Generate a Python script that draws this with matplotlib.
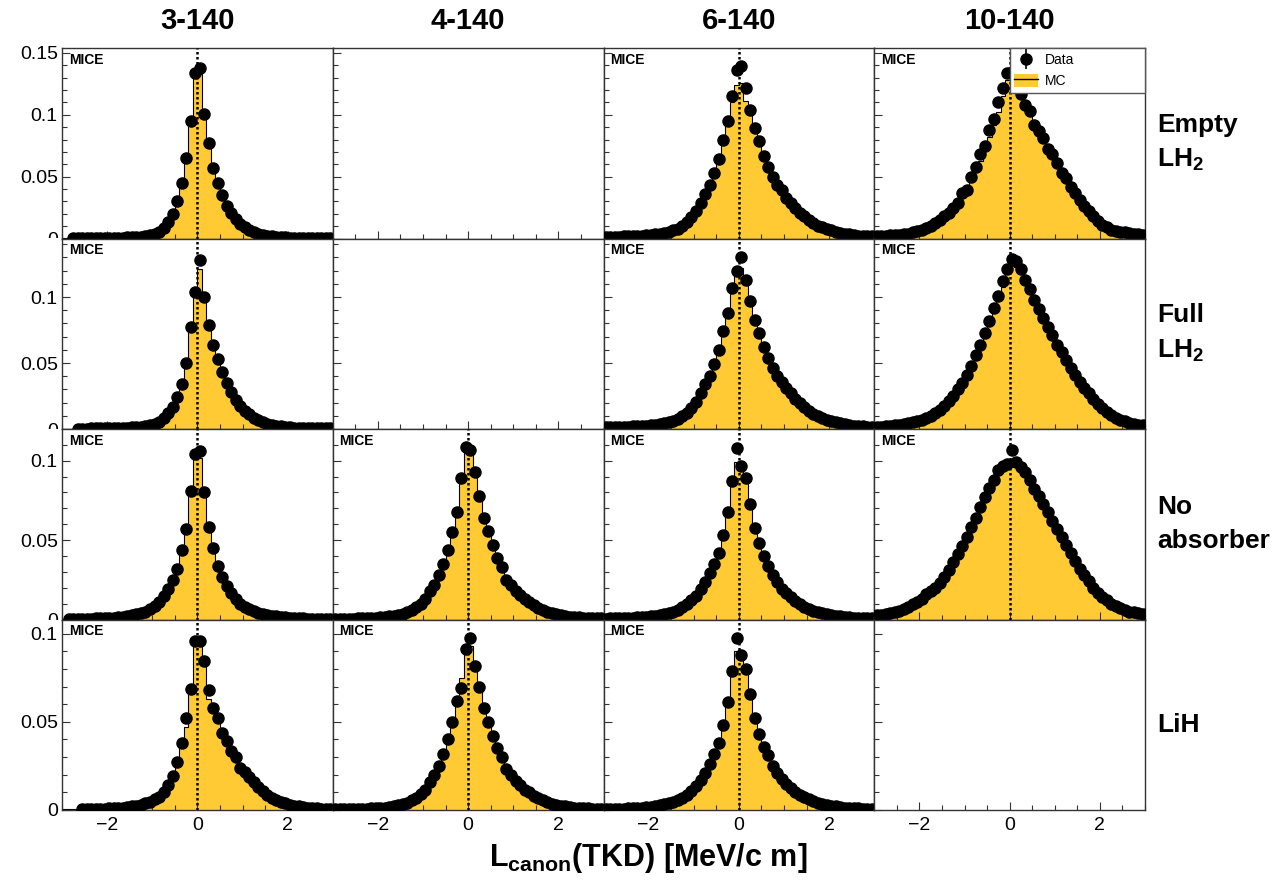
import matplotlib.pyplot as plt
import numpy as np
from matplotlib.lines import Line2D
from matplotlib.patches import Patch
from matplotlib.legend_handler import HandlerTuple
from matplotlib.transforms import Bbox, TransformedBbox

plt.rcParams['font.family'] = ['Liberation Sans', 'DejaVu Sans']
plt.rcParams['mathtext.fontset'] = 'custom'
plt.rcParams['mathtext.rm'] = 'Liberation Sans'
plt.rcParams['mathtext.bf'] = 'Liberation Sans:bold'

# Beam settings (columns) and absorber configurations (rows)
beams = ["3-140", "4-140", "6-140", "10-140"]
absorbers = ["Empty\nLH$_\\mathbf{2}$", "Full\nLH$_\\mathbf{2}$", "No\nabsorber", "LiH"]

# 60 bins of 0.1 MeV/c m between -3 and 3, bin contents in units of 1e-3
edges = np.linspace(-3, 3, 61)

empty_3_data = [0, 0, 0.3, 0.3, 0.3, 0.3, 0.4, 0.4, 0.4, 0.5, 0.5, 0.6, 0.7, 0.8, 0.9,
                1.1, 1.3, 1.6, 2.1, 2.8, 3.8, 5.5, 8.5, 13, 19.5, 30, 44.5, 65, 95, 134,
                138, 101, 77, 57, 45, 35, 26, 20.5, 15.5, 12, 9, 7, 5.2, 4, 3.1,
                2.4, 1.9, 1.5, 1.2, 1.0, 0.8, 0.7, 0.6, 0.5, 0.5, 0.4, 0.4, 0.3, 0.3, 0.3]
empty_3_mc = [0.2, 0.2, 0.3, 0.3, 0.3, 0.3, 0.4, 0.4, 0.4, 0.5, 0.5, 0.6, 0.7, 0.8, 0.9,
              1.1, 1.3, 1.6, 2.1, 2.8, 3.9, 5.6, 8.6, 13.5, 20, 29, 43, 64, 91, 133,
              133, 102, 78, 58, 45, 35, 27, 21, 16, 12.5, 9.5, 7.2, 5.4, 4.1, 3.2,
              2.5, 2.0, 1.6, 1.3, 1.0, 0.8, 0.7, 0.6, 0.5, 0.5, 0.4, 0.4, 0.3, 0.3, 0.3]

empty_6_data = [1.3, 1.4, 1.5, 1.6, 1.7, 1.8, 2.0, 2.2, 2.4, 2.6, 2.9, 3.3, 3.8, 4.5, 5.3,
                6.5, 8, 10, 13, 17, 22, 29, 36, 43.5, 53, 64, 80, 94.6, 115, 136,
                139.5, 121.5, 104, 89, 79, 67, 58, 50, 43.5, 39, 33, 29, 25, 21, 18,
                15, 12.5, 10.5, 9, 7.5, 6.5, 5.5, 4.6, 3.9, 3.3, 2.8, 2.4, 2.1, 1.9, 1.7]
empty_6_mc = [1.3, 1.4, 1.5, 1.6, 1.7, 1.8, 2.0, 2.2, 2.4, 2.6, 2.9, 3.3, 3.8, 4.5, 5.3,
              6.5, 8.2, 10.5, 13.5, 17.5, 23, 29, 36, 44, 54, 66, 81, 96, 110, 124,
              126, 111, 102, 90, 79, 68, 59, 51, 44.5, 39, 33.5, 29, 25, 21.5, 18,
              15, 12.5, 10.5, 9, 7.5, 6.5, 5.5, 4.6, 3.9, 3.3, 2.8, 2.4, 2.1, 1.9, 1.7]

empty_10_data = [1.8, 2.0, 2.0, 2.5, 2.8, 3.0, 3.5, 4.0, 5.0, 6.0, 7.0, 8.5, 10, 12.5, 15,
                 18, 21, 25, 29, 37, 39.5, 50, 58, 68, 74.5, 88, 96.5, 110, 121.5, 133.6,
                 135, 128, 117, 108, 103, 92, 87, 81, 72, 68, 61, 53, 49, 42, 37,
                 31, 26, 22, 18, 14, 11, 9, 7, 6, 5.5, 5, 4.5, 4, 3.5, 3]
empty_10_mc = [1.8, 2.0, 2.2, 2.5, 2.8, 3.2, 3.7, 4.3, 5.0, 6.0, 7.2, 8.5, 10, 12, 14.5,
               17.5, 21, 25, 29.5, 34.5, 40, 47, 55, 63, 72, 82, 92, 102, 115, 128,
               130, 128, 118, 110, 102, 94, 87, 80, 73, 67, 60, 54, 48, 42, 37,
               32, 27, 23, 19, 15, 12, 9.5, 7.5, 6.5, 5.5, 5, 4.5, 4, 3.5, 3]

full_3_data = [0, 0, 0, 0.3, 0.3, 0.3, 0.4, 0.4, 0.4, 0.5, 0.5, 0.6, 0.7, 0.8, 1.0,
               1.2, 1.4, 1.7, 2.2, 2.9, 3.9, 5.5, 8, 12, 17, 24, 34, 50, 77, 104,
               128, 100, 79, 64, 53, 43, 35, 28, 22, 17.5, 14, 11, 8.5, 6.5, 5,
               4, 3.2, 2.5, 2, 1.6, 1.3, 1.1, 0.9, 0.8, 0.7, 0.6, 0.5, 0.5, 0.4, 0.4]
full_3_mc = [0.2, 0.2, 0.3, 0.3, 0.3, 0.3, 0.4, 0.4, 0.4, 0.5, 0.5, 0.6, 0.7, 0.8, 1.0,
             1.2, 1.4, 1.7, 2.2, 2.9, 4, 5.6, 8.2, 12.5, 17.5, 25, 35, 51, 78, 106,
             121, 101, 80, 64, 53, 43, 35, 28, 22.5, 18, 14.5, 11.5, 9, 7, 5.3,
             4.2, 3.3, 2.6, 2.1, 1.7, 1.4, 1.1, 0.9, 0.8, 0.7, 0.6, 0.5, 0.5, 0.4, 0.4]

full_6_data = [1.2, 1.3, 1.4, 1.5, 1.6, 1.7, 1.9, 2.0, 2.2, 2.4, 2.7, 3.1, 3.5, 4.2, 5,
               6, 7.5, 9.5, 12, 16, 20.5, 27, 34, 40.5, 49, 60, 74, 88, 107, 120,
               130, 113, 97, 83, 73, 62, 54, 46.5, 40.5, 36, 31, 27, 23, 19.5, 17,
               14, 11.5, 9.8, 8.4, 7, 6, 5.1, 4.3, 3.6, 3.1, 2.6, 2.2, 2, 1.8, 1.6]
full_6_mc = [1.2, 1.3, 1.4, 1.5, 1.6, 1.7, 1.9, 2.0, 2.2, 2.4, 2.7, 3.1, 3.5, 4.2, 5,
             6, 7.7, 9.8, 12.4, 16.5, 21, 27, 34, 41, 50, 61, 75, 90, 104, 118,
             122, 109, 96, 83, 73, 63, 54, 47, 41, 36, 31, 27, 23, 19.5, 17,
             14, 11.5, 9.8, 8.4, 7, 6, 5.1, 4.3, 3.6, 3.1, 2.6, 2.2, 2, 1.8, 1.6]

full_10_data = [1.5, 1.7, 2.0, 2.3, 2.7, 3.1, 3.7, 4.3, 5.0, 6.0, 7.2, 8.5, 10, 12, 14.5,
                17.5, 21, 25, 30, 35, 41, 48, 56, 64, 73, 82, 92, 101, 112, 121,
                129, 127, 121, 113, 106, 98, 91, 84, 77, 71, 64, 58, 52, 46, 41,
                36, 31, 27, 23, 19, 16, 13, 10.5, 8.5, 7, 5.8, 4.8, 4, 3.3, 2.8]
full_10_mc = [1.5, 1.7, 2.0, 2.3, 2.7, 3.1, 3.7, 4.3, 5.0, 6.0, 7.2, 8.5, 10, 12, 14.5,
              17.5, 21, 25, 29.5, 34.5, 40, 47, 55, 63, 72, 81, 90, 99, 108, 118,
              124, 123, 118, 112, 105, 98, 91, 84, 77, 70, 64, 58, 52, 46, 41,
              36, 31, 27, 23, 19, 16, 13, 10.5, 8.5, 7, 5.8, 4.8, 4, 3.3, 2.8]

none_3_data = [0, 0.4, 0.4, 0.5, 0.5, 0.6, 0.6, 0.7, 0.8, 0.9, 1.0, 1.2, 1.4, 1.7, 2.1,
               2.6, 3.2, 4, 5, 6.5, 8.5, 11, 14.5, 19, 25, 32, 44, 57, 81, 104,
               106, 80, 58, 45, 34, 27, 21, 16.5, 13, 10, 8, 6.5, 5.2, 4.2, 3.4,
               2.8, 2.3, 1.9, 1.6, 1.3, 1.1, 0.9, 0.8, 0.7, 0.6, 0.5, 0.5, 0.4, 0.4, 0.3]
none_3_mc = [0.3, 0.4, 0.4, 0.5, 0.5, 0.6, 0.6, 0.7, 0.8, 0.9, 1.0, 1.2, 1.4, 1.7, 2.1,
             2.6, 3.2, 4, 5, 6.5, 8.5, 11, 14.5, 19, 25, 33, 45, 58, 80, 102,
             102, 80, 59, 46, 35, 27.5, 21.5, 17, 13.5, 10.5, 8.3, 6.7, 5.4, 4.3, 3.5,
             2.8, 2.3, 1.9, 1.6, 1.3, 1.1, 0.9, 0.8, 0.7, 0.6, 0.5, 0.5, 0.4, 0.4, 0.3]

none_4_data = [0.4, 0.4, 0.5, 0.5, 0.6, 0.7, 0.8, 0.9, 1.0, 1.1, 1.3, 1.6, 2.0, 2.4, 3.0,
               3.7, 4.7, 6, 7.8, 10, 12.7, 18, 22, 28, 35, 44, 55, 68, 89, 108.5,
               107, 93, 78, 64, 56, 47, 39, 33, 25, 22, 18, 15.4, 13, 11, 9,
               7.5, 6, 5, 4, 3.3, 2.7, 2.2, 1.8, 1.5, 1.3, 1.1, 1.0, 0.9, 0.8, 0.7]
none_4_mc = [0.4, 0.4, 0.5, 0.5, 0.6, 0.7, 0.8, 0.9, 1.0, 1.1, 1.3, 1.6, 2.0, 2.4, 3.0,
             3.8, 4.8, 6.2, 8, 10.3, 13.5, 17.5, 22.5, 28.5, 35.5, 44, 55, 69, 88, 106,
             106, 92, 78, 65, 55.5, 47, 39.5, 33, 27, 22.5, 18.5, 15.5, 13, 11, 9,
             7.5, 6, 5, 4, 3.3, 2.7, 2.2, 1.8, 1.5, 1.3, 1.1, 1.0, 0.9, 0.8, 0.7]

none_6_data = [0.6, 0.7, 0.7, 0.8, 0.9, 1.0, 1.1, 1.3, 1.5, 1.7, 2.0, 2.4, 2.9, 3.5, 4.2,
               5, 6.2, 7.7, 9.5, 12, 15, 19, 23.5, 29, 35, 42, 53, 68, 87.5, 108,
               97, 89, 73, 57.5, 48, 40, 34, 28, 23.5, 19.5, 16.5, 14, 11.5, 9.5, 8,
               6.6, 5.5, 4.6, 3.8, 3.2, 2.7, 2.3, 1.9, 1.6, 1.4, 1.2, 1.0, 0.9, 0.8, 0.7]
none_6_mc = [0.6, 0.7, 0.7, 0.8, 0.9, 1.0, 1.1, 1.3, 1.5, 1.7, 2.0, 2.4, 2.9, 3.5, 4.2,
             5, 6.3, 7.8, 9.7, 12.2, 15.2, 19, 23.5, 29, 35.5, 43, 53, 67, 85, 99,
             100, 88, 74, 59, 49, 41, 34.5, 28.5, 24, 20, 17, 14.2, 11.8, 9.8, 8.1,
             6.6, 5.5, 4.6, 3.8, 3.2, 2.7, 2.3, 1.9, 1.6, 1.4, 1.2, 1.0, 0.9, 0.8, 0.7]

none_10_data = [3, 3, 3.5, 4, 4.5, 5.5, 6.5, 8, 9.5, 11, 13, 16, 18, 20, 23,
                27, 31, 36, 41, 46, 52, 58, 64, 71, 77, 83, 88, 94, 97, 98,
                107, 99, 96, 93, 88, 82, 78, 73, 68, 62, 57, 52, 47, 42, 37,
                32, 28, 24, 20, 17, 14, 12, 10, 8.5, 7, 6, 5, 4.5, 4, 3.5]
none_10_mc = [3, 3, 3.5, 4, 4.5, 5.5, 6.5, 8, 9.5, 11, 13, 15.5, 18, 20.5, 23,
              26, 30, 34.5, 40, 45.5, 51, 57, 63, 69.5, 75.5, 81, 86, 91, 95, 98,
              100, 100, 96, 92, 87, 82, 77, 72, 67, 62, 57, 52, 47, 42, 37,
              32, 28, 24, 20, 17, 14, 12, 10, 8.5, 7, 6, 5, 4.5, 4, 3.5]

lih_3_data = [0, 0, 0, 0, 0.5, 0.5, 0.6, 0.6, 0.7, 0.8, 0.9, 1.0, 1.2, 1.4, 1.7,
              2.0, 2.5, 3.0, 3.7, 4.5, 6, 7.5, 10, 13.9, 19, 27.4, 38, 52, 68.5, 96,
              96, 84.4, 68, 58, 52, 43.8, 39, 33.6, 30, 23.6, 21.6, 18.7, 15.8, 13.3, 11,
              8.7, 6.8, 5.5, 4.5, 3.7, 3, 2.5, 2, 1.7, 1.4, 1.2, 1, 0.8, 0.7, 0.6]
lih_3_mc = [0.4, 0.4, 0.4, 0.5, 0.5, 0.5, 0.6, 0.6, 0.7, 0.8, 0.9, 1.0, 1.2, 1.4, 1.7,
            2.0, 2.5, 3.0, 3.7, 4.6, 5.8, 7.5, 9.8, 13.5, 19, 27, 38, 47, 68, 98.5,
            98.5, 84, 63, 58, 51, 44, 39, 33, 29, 24, 21.5, 18.5, 15.5, 13, 10.8,
            8.7, 6.9, 5.6, 4.6, 3.8, 3.1, 2.5, 2.1, 1.7, 1.4, 1.2, 1.0, 0.8, 0.7, 0.6]

lih_4_data = [0.4, 0.4, 0.4, 0.5, 0.5, 0.6, 0.7, 0.8, 0.9, 1.0, 1.2, 1.4, 1.8, 2.2, 2.7,
              3.3, 4.2, 5.4, 7, 9, 11.5, 16, 20, 25, 31.5, 40, 50, 62, 69, 91,
              97.7, 81.5, 70, 58, 50, 42, 35, 30, 23, 20, 16.5, 14, 11.5, 10, 8,
              6.8, 5.4, 4.5, 3.6, 3, 2.4, 2, 1.6, 1.4, 1.2, 1, 0.9, 0.8, 0.7, 0.6]
lih_4_mc = [0.4, 0.4, 0.4, 0.5, 0.5, 0.6, 0.7, 0.8, 0.9, 1.0, 1.2, 1.4, 1.8, 2.2, 2.7,
            3.4, 4.3, 5.5, 7.1, 9.2, 11.8, 15.5, 20, 25.5, 32, 40, 50, 61, 75, 92,
            93, 82, 70, 58.5, 50, 42, 35.5, 29.5, 24, 20, 16.8, 14, 11.7, 9.8, 8.1,
            6.8, 5.4, 4.5, 3.6, 3, 2.4, 2, 1.6, 1.4, 1.2, 1, 0.9, 0.8, 0.7, 0.6]

lih_6_data = [0.5, 0.6, 0.6, 0.7, 0.8, 0.9, 1.0, 1.2, 1.4, 1.5, 1.8, 2.2, 2.6, 3.2, 3.8,
              4.5, 5.6, 7, 8.5, 11, 13.5, 17, 21, 26, 31.5, 38, 48, 61, 79, 97.7,
              88, 80, 66, 52, 43, 36, 31, 25, 21, 17.5, 15, 12.6, 10.4, 8.6, 7.2,
              6, 5, 4.1, 3.4, 2.9, 2.4, 2.1, 1.7, 1.4, 1.3, 1.1, 0.9, 0.8, 0.7, 0.6]
lih_6_mc = [0.5, 0.6, 0.6, 0.7, 0.8, 0.9, 1.0, 1.2, 1.4, 1.5, 1.8, 2.2, 2.6, 3.2, 3.8,
            4.6, 5.7, 7.1, 8.8, 11.2, 13.8, 17.2, 21.5, 26.5, 32, 39, 48.5, 61, 77, 90,
            90, 81, 66.5, 53, 44, 37, 31, 25.5, 21.5, 18, 15.2, 12.8, 10.6, 8.8, 7.3,
            6, 5, 4.1, 3.4, 2.9, 2.4, 2.1, 1.7, 1.4, 1.3, 1.1, 0.9, 0.8, 0.7, 0.6]

# (data, mc) per row/column; None where no sample was taken
panels = [
    [(empty_3_data, empty_3_mc), None, (empty_6_data, empty_6_mc), (empty_10_data, empty_10_mc)],
    [(full_3_data, full_3_mc), None, (full_6_data, full_6_mc), (full_10_data, full_10_mc)],
    [(none_3_data, none_3_mc), (none_4_data, none_4_mc), (none_6_data, none_6_mc), (none_10_data, none_10_mc)],
    [(lih_3_data, lih_3_mc), (lih_4_data, lih_4_mc), (lih_6_data, lih_6_mc), None],
]
row_ymax = [0.154, 0.1444, 0.12, 0.108]

MC_YELLOW = '#FFCA33'
centers = 0.5 * (edges[:-1] + edges[1:])

fig = plt.figure(figsize=(12.8, 8.82), dpi=100)
L, R, T, B = 62 / 1280, 1145 / 1280, 1 - 48 / 882, 1 - 810 / 882
axes = fig.subplots(4, 4, gridspec_kw=dict(left=L, right=R, top=T, bottom=B,
                                           wspace=0, hspace=0))
row_h = (T - B) / 4

for r in range(4):
    for c in range(4):
        ax = axes[r, c]
        ymax = row_ymax[r]
        ax.set_xlim(-3, 3)
        ax.set_ylim(0, ymax)
        ax.set_xticks([-2, 0, 2])
        ax.set_xticks(np.arange(-3, 3.01, 0.5), minor=True)
        yt = [v for v in (0, 0.05, 0.1, 0.15) if v <= ymax]
        ax.set_yticks(yt)
        ax.set_yticks(np.arange(0, ymax, 0.01), minor=True)
        ax.set_yticklabels([f"{v:g}" for v in yt])
        ax.tick_params(which='both', direction='in', top=False, right=False,
                       labelsize=14, color='#333333')
        ax.tick_params(which='major', length=6, width=0.8)
        ax.tick_params(which='minor', length=3.5, width=0.8)
        ax.tick_params(axis='y', pad=3)
        ax.tick_params(axis='x', pad=5)
        for s in ax.spines.values():
            s.set_color('#333333')
            s.set_linewidth(1.0)
        if c > 0:
            ax.tick_params(labelleft=False)
        if r < 3:
            ax.tick_params(labelbottom=False)

        p = panels[r][c]
        if p is None:
            continue
        data = np.array(p[0]) * 1e-3
        mc = np.array(p[1]) * 1e-3
        ax.stairs(mc, edges, fill=True, color=MC_YELLOW, lw=0, zorder=1)
        ax.stairs(mc, edges, color='black', lw=0.8, zorder=2)
        m = data > 0
        ax.errorbar(centers[m], data[m], xerr=0.05, fmt='o', ms=8, color='black',
                    elinewidth=1.5, capsize=0, zorder=3, clip_on=True)
        ax.axvline(0, color='black', ls=(0, (1, 1)), lw=1.8, zorder=4)
        ax.text(0.025, 0.975, 'MICE', transform=ax.transAxes, fontsize=10,
                fontweight='bold', ha='left', va='top', zorder=6)

# The zero label of the upper rows is cut by the panel below it
for r in range(3):
    ax = axes[r, 0]
    y0 = B + (3 - r) * row_h
    lab = ax.yaxis.get_major_ticks()[0].label1
    lab.set_clip_on(True)
    lab.set_clip_box(TransformedBbox(Bbox([[0, y0], [L, 1]]), fig.transFigure))

# Legend in the top-right panel
h_data = (Line2D([], [], color='black', marker='|', ms=14, mew=1.2, ls='none'),
          Line2D([], [], color='black', marker='o', ms=8, ls='none'))
h_mc = (Patch(facecolor=MC_YELLOW, edgecolor='none'),
        Line2D([], [], color='black', lw=1))
leg = axes[0, 3].legend([h_data, h_mc], ['Data', 'MC'],
                        handler_map={tuple: HandlerTuple(ndivide=1)},
                        loc='upper left', bbox_to_anchor=(0.5, 0.77, 0.5, 0.23),
                        mode='expand', fontsize=10, frameon=True, fancybox=False,
                        edgecolor='#555555', framealpha=1, borderaxespad=0,
                        handlelength=1.7, handleheight=1.1, labelspacing=0.45,
                        handletextpad=0.5, borderpad=0.35)
leg.get_frame().set_linewidth(1.0)
leg.set_zorder(7)

# Column titles and row labels
col_w = (R - L) / 4
for c, name in enumerate(beams):
    fig.text(L + col_w * (c + 0.5), 1 - 21 / 882, name, fontsize=21,
             fontweight='bold', ha='center', va='center')
for r, name in enumerate(absorbers):
    yc = T - row_h * (r + 0.5)
    if r == 3:
        yc -= 10 / 882
    fig.text(1157 / 1280, yc, name, fontsize=19, fontweight='bold',
             ha='left', va='center', linespacing=1.5)

fig.text(648 / 1280, 1 - 858 / 882, r"L$_{\mathbf{canon}}$(TKD) [MeV/c m]",
         fontsize=22, fontweight='bold', ha='center', va='center')

fig.savefig('out.png', dpi=100)
